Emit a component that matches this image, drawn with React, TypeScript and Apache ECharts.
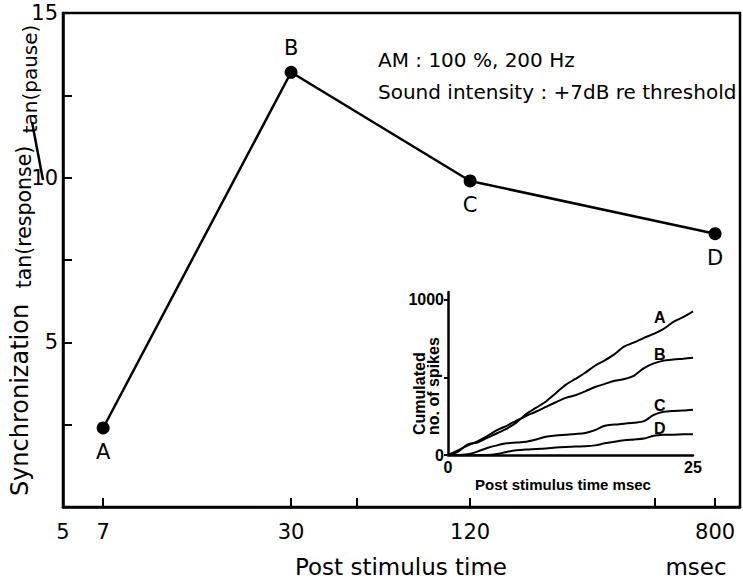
import React, { useEffect, useRef } from "react";
import * as echarts from "echarts";

// Main chart data
const pointLabels = ["A", "B", "C", "D"];
const postStimulusTime = [7, 30, 120, 800]; // msec
const synchronization = [2.4, 13.2, 9.9, 8.3];
const labelPositions = ["bottom", "top", "bottom", "bottom"];

const xAxisMin = 5.13; // axis starts at "5"
const xAxisMax = 970;
const xTickValues = [7, 30, 50, 120, 500, 800];
const xLabelValues = [xAxisMin, 7, 30, 120, 800];
const yLabelValues = [5, 10, 15];

// Inset data: cumulated number of spikes vs post stimulus time (msec)
const insetTime = [0, 1, 2, 3, 4, 5, 6, 7, 8, 9, 10, 11, 12, 13, 14, 15, 16, 17, 18, 19, 20, 21, 22, 23, 24, 25];
const cumA = [0, 20, 68, 80, 110, 140, 170, 210, 265, 305, 345, 398, 452, 490, 530, 575, 610, 650, 700, 725, 755, 780, 812, 858, 888, 925];
const cumB = [0, 30, 60, 88, 122, 160, 188, 222, 252, 280, 310, 340, 368, 385, 410, 438, 458, 478, 490, 512, 560, 590, 608, 615, 620, 626];
const cumC = [0, 0, 5, 22, 45, 62, 75, 80, 86, 100, 118, 125, 130, 135, 142, 160, 188, 196, 202, 208, 218, 258, 278, 284, 286, 292];
const cumD = [0, 0, 0, 0, 0, 6, 20, 30, 35, 38, 42, 48, 52, 55, 56, 62, 75, 86, 95, 100, 106, 124, 130, 131, 133, 134];
const insetNames = ["A", "B", "C", "D"];
const insetLabelOffsets = [[-47, 6], [-47, -3], [-47, -4], [-47, -6]];
const insetYTicks = [0, 500, 1000];
const insetYLabels = [0, 1000];
const insetXLabels = [0, 25];

const FONT = "'DejaVu Sans', 'Liberation Sans', sans-serif";
const FONT_B = "'Liberation Sans', Arial, sans-serif";

export default function App() {
  const ref = useRef<HTMLDivElement>(null);
  useEffect(() => {
    if (!ref.current) return;
    const chart = echarts.init(ref.current, undefined, { renderer: "svg" });
    const lg = (v: number) => Math.log10(v);
    const insetSeries = [cumA, cumB, cumC, cumD];
    const option: any = {
      animation: false,
      backgroundColor: "#fff",
      textStyle: { fontFamily: FONT, color: "#000" },
      grid: [
        { left: 63, right: 3, top: 13, bottom: 74, show: true, borderColor: "#000", borderWidth: 2.5, backgroundColor: "transparent" },
        { left: 448, width: 245, top: 292, height: 163 },
      ],
      xAxis: [
        {
          type: "value",
          gridIndex: 0,
          min: lg(xAxisMin),
          max: lg(xAxisMax),
          splitLine: { show: false },
          axisLine: { lineStyle: { color: "#000", width: 2.5 } },
          axisTick: { inside: true, length: 9, customValues: xTickValues.map(lg), lineStyle: { color: "#000", width: 2 } },
          axisLabel: {
            customValues: xLabelValues.map(lg),
            formatter: (v: number) => String(Math.round(Math.pow(10, v))),
            fontSize: 21,
            color: "#000",
            fontFamily: FONT,
            margin: 14,
          },
        },
        {
          type: "value",
          gridIndex: 1,
          min: 0,
          max: 25,
          splitLine: { show: false },
          axisLine: { lineStyle: { color: "#000", width: 2.5 } },
          axisTick: { show: false },
          axisLabel: { customValues: insetXLabels, fontSize: 16, fontWeight: "bold", color: "#000", fontFamily: FONT_B, margin: 4 },
        },
      ],
      yAxis: [
        {
          type: "value",
          gridIndex: 0,
          min: 0,
          max: 15,
          interval: 2.5,
          splitLine: { show: false },
          axisLine: { lineStyle: { color: "#000", width: 2.5 } },
          axisTick: { inside: true, length: 9, lineStyle: { color: "#000", width: 2 } },
          axisLabel: { customValues: yLabelValues, fontSize: 21, color: "#000", fontFamily: FONT, margin: 5 },
        },
        {
          type: "value",
          gridIndex: 1,
          min: 0,
          max: 1050,
          splitLine: { show: false },
          axisLine: { lineStyle: { color: "#000", width: 2.5 } },
          axisTick: { length: 4, customValues: insetYTicks, lineStyle: { color: "#000", width: 2 } },
          axisLabel: { customValues: insetYLabels, formatter: (v: number) => String(v), fontSize: 16, fontWeight: "bold", color: "#000", fontFamily: FONT_B, margin: 4 },
        },
      ],
      series: [
        {
          type: "line",
          xAxisIndex: 0,
          yAxisIndex: 0,
          data: postStimulusTime.map((t, i) => ({
            value: [lg(t), synchronization[i]],
            label: { show: true, formatter: pointLabels[i], position: labelPositions[i] },
          })),
          symbol: "circle",
          symbolSize: 13,
          itemStyle: { color: "#000" },
          lineStyle: { color: "#000", width: 2.5 },
          label: { fontSize: 21, color: "#000", fontFamily: FONT, distance: 7 },
        },
        ...insetSeries.map((arr, k) => ({
          type: "line",
          name: insetNames[k],
          xAxisIndex: 1,
          yAxisIndex: 1,
          data: insetTime.map((t, i) => [t, arr[i]]),
          showSymbol: false,
          smooth: 0.3,
          lineStyle: { color: "#000", width: 2 },
          endLabel: {
            show: true,
            formatter: insetNames[k],
            offset: insetLabelOffsets[k],
            fontSize: 16,
            fontWeight: "bold",
            color: "#000",
            fontFamily: FONT_B,
          },
        })),
      ],
      graphic: [
        { type: "text", x: 378, y: 60, style: { text: "AM : 100 %, 200 Hz", font: `20px ${FONT}`, fill: "#000", verticalAlign: "middle" } },
        { type: "text", x: 378, y: 92, style: { text: "Sound intensity : +7dB re threshold", font: `20px ${FONT}`, fill: "#000", verticalAlign: "middle" } },
        { type: "text", x: 401, y: 567, style: { text: "Post stimulus time", font: `23px ${FONT}`, fill: "#000", align: "center", verticalAlign: "middle" } },
        { type: "text", x: 696, y: 567, style: { text: "msec", font: `23px ${FONT}`, fill: "#000", align: "center", verticalAlign: "middle" } },
        { type: "text", x: 20, y: 400, rotation: Math.PI / 2, style: { text: "Synchronization", font: `24px ${FONT}`, fill: "#000", align: "center", verticalAlign: "middle" } },
        { type: "text", x: 24, y: 217, rotation: Math.PI / 2, style: { text: "tan(response)", font: `20.5px ${FONT}`, fill: "#000", align: "center", verticalAlign: "middle" } },
        { type: "line", shape: { x1: 32, y1: 122, x2: 43, y2: 180 }, style: { stroke: "#000", lineWidth: 2.5 } },
        { type: "text", x: 30, y: 79, rotation: Math.PI / 2, style: { text: "tan(pause)", font: `20px ${FONT}`, fill: "#000", align: "center", verticalAlign: "middle" } },
        { type: "text", x: 419, y: 435, rotation: Math.PI / 2, style: { text: "Cumulated", font: `bold 16px ${FONT_B}`, fill: "#000", align: "left", verticalAlign: "middle" } },
        { type: "text", x: 433, y: 435, rotation: Math.PI / 2, style: { text: "no. of spikes", font: `bold 16px ${FONT_B}`, fill: "#000", align: "left", verticalAlign: "middle" } },
        { type: "text", x: 563, y: 484, style: { text: "Post stimulus time msec", font: `bold 15px ${FONT_B}`, fill: "#000", align: "center", verticalAlign: "middle" } },
      ],
    };
    chart.setOption(option);
    return () => chart.dispose();
  }, []);
  return <div ref={ref} style={{ width: 743, height: 581, position: "absolute", left: 0, top: 0 }} />;
}
